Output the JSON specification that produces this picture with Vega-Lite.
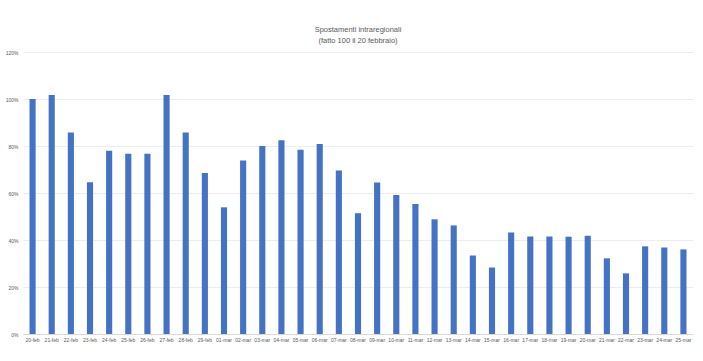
{
  "$schema": "https://vega.github.io/schema/vega-lite/v6.json",
  "width": 670,
  "height": 282,
  "autosize": {"type": "none"},
  "padding": {"left": 23, "top": 52, "right": 10, "bottom": 27},
  "background": "white",
  "title": {
    "text": ["Spostamenti intraregionali", "(fatto 100 il 20 febbraio)"],
    "anchor": "middle",
    "font": "Liberation Sans",
    "fontSize": 7.5,
    "fontWeight": "normal",
    "color": "#595959",
    "lineHeight": 11,
    "offset": 6
  },
  "data": {
    "values": [
      {"giorno": "20-feb", "valore": 1.000},
      {"giorno": "21-feb", "valore": 1.017},
      {"giorno": "22-feb", "valore": 0.857},
      {"giorno": "23-feb", "valore": 0.646},
      {"giorno": "24-feb", "valore": 0.780},
      {"giorno": "25-feb", "valore": 0.767},
      {"giorno": "26-feb", "valore": 0.767},
      {"giorno": "27-feb", "valore": 1.017},
      {"giorno": "28-feb", "valore": 0.857},
      {"giorno": "29-feb", "valore": 0.685},
      {"giorno": "01-mar", "valore": 0.539},
      {"giorno": "02-mar", "valore": 0.738},
      {"giorno": "03-mar", "valore": 0.800},
      {"giorno": "04-mar", "valore": 0.824},
      {"giorno": "05-mar", "valore": 0.784},
      {"giorno": "06-mar", "valore": 0.808},
      {"giorno": "07-mar", "valore": 0.696},
      {"giorno": "08-mar", "valore": 0.514},
      {"giorno": "09-mar", "valore": 0.645},
      {"giorno": "10-mar", "valore": 0.591},
      {"giorno": "11-mar", "valore": 0.553},
      {"giorno": "12-mar", "valore": 0.488},
      {"giorno": "13-mar", "valore": 0.462},
      {"giorno": "14-mar", "valore": 0.334},
      {"giorno": "15-mar", "valore": 0.283},
      {"giorno": "16-mar", "valore": 0.432},
      {"giorno": "17-mar", "valore": 0.415},
      {"giorno": "18-mar", "valore": 0.415},
      {"giorno": "19-mar", "valore": 0.414},
      {"giorno": "20-mar", "valore": 0.418},
      {"giorno": "21-mar", "valore": 0.322},
      {"giorno": "22-mar", "valore": 0.258},
      {"giorno": "23-mar", "valore": 0.373},
      {"giorno": "24-mar", "valore": 0.368},
      {"giorno": "25-mar", "valore": 0.360}
    ]
  },
  "mark": {"type": "bar", "color": "#4472C4"},
  "encoding": {
    "x": {
      "field": "giorno",
      "type": "nominal",
      "sort": null,
      "scale": {"paddingInner": 0.68, "paddingOuter": 0.34},
      "axis": {
        "title": null,
        "labelAngle": 0,
        "labelFontSize": 5,
        "labelColor": "#595959",
        "labelFont": "Liberation Sans",
        "labelPadding": 3,
        "ticks": false,
        "domainColor": "#d9d9d9",
        "grid": false
      }
    },
    "y": {
      "field": "valore",
      "type": "quantitative",
      "scale": {"domain": [0, 1.2], "nice": false},
      "axis": {
        "title": null,
        "values": [0, 0.2, 0.4, 0.6, 0.8, 1.0, 1.2],
        "format": ".0%",
        "labelFontSize": 5,
        "labelColor": "#595959",
        "labelFont": "Liberation Sans",
        "labelPadding": 5,
        "ticks": false,
        "domain": false,
        "gridColor": "#e8e8e8",
        "gridWidth": 0.8
      }
    }
  },
  "config": {
    "view": {"stroke": null}
  }
}
